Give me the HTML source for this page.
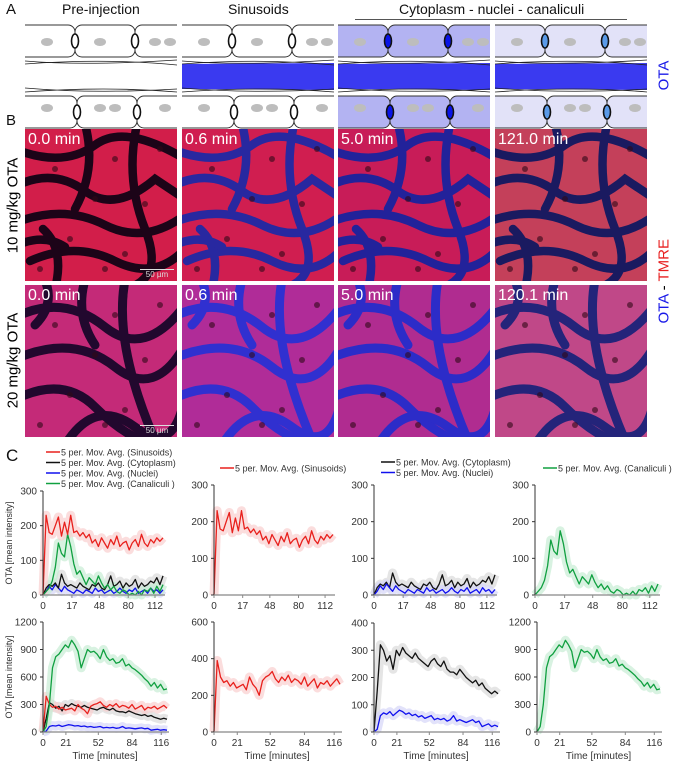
<!DOCTYPE html>
<html><head><meta charset="utf-8">
<style>
html,body{margin:0;padding:0;background:#fff;}
body{width:674px;height:762px;position:relative;overflow:hidden;font-family:"Liberation Sans",sans-serif;}
.abs{position:absolute;}
.lbl{font-size:15px;color:#111;}
.ttl{font-size:14px;color:#111;white-space:nowrap;}
.ts{position:absolute;left:3px;top:2px;color:#fff;font-size:16px;white-space:nowrap;}
.img{position:absolute;width:152px;height:152px;overflow:hidden;}
.rot{position:absolute;transform:rotate(-90deg);transform-origin:center;white-space:nowrap;}
</style></head>
<body>
<div class="abs lbl" style="left:6px;top:1px">A</div>
<div class="abs lbl" style="left:6px;top:112px">B</div>
<div class="abs lbl" style="left:6px;top:446px;font-size:17px">C</div>

<div class="abs ttl" style="left:62px;top:1px">Pre-injection</div>
<div class="abs ttl" style="left:228px;top:1px">Sinusoids</div>
<div class="abs ttl" style="left:399px;top:1px">Cytoplasm - nuclei - canaliculi</div>
<div class="abs" style="left:355px;top:19px;width:272px;height:1px;background:#555"></div>

<div class="rot" style="left:648px;top:67px;color:#1a1ae8;font-size:15px;width:32px;text-align:center">OTA</div>
<div class="rot" style="left:624px;top:275px;font-size:15px;width:80px;text-align:center"><span style="color:#1a1ae8">OTA</span> - <span style="color:#e82020">TMRE</span></div>
<div class="rot" style="left:-42px;top:197px;font-size:15px;width:110px;text-align:center">10 mg/kg OTA</div>
<div class="rot" style="left:-42px;top:352px;font-size:15px;width:110px;text-align:center">20 mg/kg OTA</div>

<svg id="schem" class="abs" style="left:0;top:0" width="674" height="130"></svg>
<div id="imgs"></div>
<svg id="charts" class="abs" style="left:0;top:440px" width="674" height="322"></svg>

<script>
const NS="http://www.w3.org/2000/svg";
function mk(tag,attrs,parent){const e=document.createElementNS(NS,tag);for(const k in attrs)e.setAttribute(k,attrs[k]);if(parent)parent.appendChild(e);return e;}
const colX=[25,182,338,495];
const cellFill=['#fff','#fff','#b3b3f2','#e2e2f8'];
const canFill=['#fff','#fff','#0a14e6','#5a9ae8'];
const schem=document.getElementById('schem');
colX.forEach((cx,i)=>{
  const g=mk('g',{transform:`translate(${cx},0)`},schem);
  
  
  const clip=mk('clipPath',{id:'cl'+i},g);mk('rect',{x:0,y:0,width:152,height:130},clip);
  const c=mk('g',{'clip-path':`url(#cl${i})`},g);
  [[-10,50],[50,110],[110,165]].forEach(([a,b])=>mk('rect',{x:a,y:25,width:b-a,height:32,rx:7,fill:cellFill[i],stroke:'#333','stroke-width':1},c));
  [[-10,52],[52,112],[112,165]].forEach(([a,b])=>mk('rect',{x:a,y:96,width:b-a,height:32,rx:7,fill:cellFill[i],stroke:'#333','stroke-width':1},c));
  [50,110].forEach(x=>mk('ellipse',{cx:x,cy:41,rx:3.5,ry:7,fill:canFill[i],stroke:'#111','stroke-width':1.6},c));
  [52,112].forEach(x=>mk('ellipse',{cx:x,cy:112,rx:3.5,ry:7,fill:canFill[i],stroke:'#111','stroke-width':1.6},c));
  [22,75,130,145].forEach(x=>mk('ellipse',{cx:x,cy:42,rx:6,ry:4,fill:'#bdbdbd'},c));
  [22,75,90,140].forEach(x=>mk('ellipse',{cx:x,cy:108,rx:6,ry:4,fill:'#bdbdbd'},c));
  if(i>0) mk('path',{d:'M0 64 L152 63 L152 90 L0 89 Z',fill:'#3a3af0'},c);
  mk('path',{d:'M0 61 Q60 66 152 60 M0 64 Q80 58 152 65',fill:'none',stroke:'#222','stroke-width':0.8},c);
  mk('path',{d:'M0 88 Q70 94 152 89 M0 92 Q80 86 152 92',fill:'none',stroke:'#222','stroke-width':0.8},c);
});

const imgRowsY=[129,285];
const times=[['0.0 min','0.6 min','5.0 min','121.0 min'],['0.0 min','0.6 min','5.0 min','120.1 min']];
const bg=[['#d21e4a','#d01e50','#c81c58','#c4405a'],['#c42a78','#b02c98','#b02c90','#c04888']];
const ch=[['#1c0418','#2828a0','#22229a','#1a1a60'],['#22082e','#3030d0','#2c2cc8','#24247a']];
const paths1=["M-5 22 Q40 38 70 16 T160 30","M-5 55 Q30 40 60 62 T130 50 L160 70","M-5 92 Q40 76 80 96 T160 86","M5 132 Q50 112 90 132 T160 120","M60 -5 Q72 40 50 80","M112 -5 Q100 50 120 100 T100 160","M30 160 Q40 120 18 100","M-5 115 Q20 105 40 118"];
const paths2=["M-5 30 Q40 10 80 42 T160 20","M-5 72 Q50 50 90 82 T160 60","M-5 112 Q40 92 70 122 T130 160","M40 160 Q70 112 110 142 T160 110","M100 -5 Q88 60 132 160","M20 -5 Q30 20 10 40","M60 -5 Q50 30 70 60"];
const imgs=document.getElementById('imgs');
imgRowsY.forEach((y,r)=>colX.forEach((x,c)=>{
  const d=document.createElement('div');d.className='img';d.style.left=x+'px';d.style.top=y+'px';d.style.background=bg[r][c];
  
  
  const s=mk('svg',{width:152,height:152},null);
  (r?paths2:paths1).forEach(p=>mk('path',{d:p,fill:'none',stroke:ch[r][c],'stroke-width':r?9:8.5,'stroke-linecap':'round'},s));
  [[30,40],[90,30],[120,75],[45,110],[100,125],[70,70],[15,140],[135,20],[80,140]].forEach(([a,b])=>mk('circle',{cx:a,cy:b,r:3,fill:'#300818',opacity:0.6},s));
  d.appendChild(s);
  const t=document.createElement('div');t.className='ts';t.textContent=times[r][c];
  
  
  d.appendChild(t);
  if(c===0){const sb=document.createElement('div');sb.style.cssText='position:absolute;left:115px;top:140px;width:34px;border-top:1px solid #ddd;color:#ddd;font-size:8px;text-align:center';sb.textContent='50 µm';
  
  
  d.appendChild(sb);}
  imgs.appendChild(d);
}));

// ---------- Panel C chart data ----------
const yTicks10=[0,100,200,300];
const xTickLabels10=['0','17','48','80','112'];
const xTickIdx10=[0,9.4,18.3,27.7,36.4];
const xTickLabels20=['0','21','52','84','116'];
const xTickIdx20=[0,7.2,17.4,28,37.2];
const sin10=[0,230,180,175,200,225,170,210,175,230,180,185,170,180,165,175,150,160,140,165,150,135,160,145,170,140,150,155,130,150,160,140,175,150,140,160,150,165,155,165];
const cyt10=[0,20,30,25,35,20,60,35,25,30,25,20,35,25,20,15,30,25,35,20,15,30,55,25,30,40,20,35,25,30,45,20,35,25,30,40,35,50,30,55];
const nuc10=[0,10,25,15,30,20,10,25,15,10,5,15,10,5,15,10,5,20,10,15,5,10,15,5,10,20,10,5,15,10,20,5,10,15,5,20,10,15,5,15];
const can10=[0,10,20,40,80,150,120,110,175,140,90,60,70,50,30,50,40,30,55,35,20,30,15,25,10,5,15,10,0,5,0,10,0,15,10,20,5,25,10,30];
const sin20=[0,390,300,270,280,250,270,240,250,260,230,300,260,240,200,280,300,310,330,290,270,300,280,310,270,290,280,260,300,250,270,290,240,270,260,280,250,270,290,260];
const cyt20=[0,150,320,300,260,280,230,300,280,310,290,280,270,290,270,260,250,240,260,270,250,240,260,230,220,220,210,230,215,200,190,180,190,170,180,160,150,140,150,140];
const nuc20=[0,10,60,70,65,75,60,70,80,75,65,70,60,65,55,60,50,55,60,45,50,45,50,40,45,60,40,45,40,35,40,45,35,40,20,25,30,20,25,20];
const can20=[0,60,300,700,820,850,900,950,920,1000,950,880,700,800,900,870,880,850,800,900,820,780,800,750,760,800,720,740,700,680,650,620,580,550,500,540,480,520,460,470];
const yTicksA=[0,300,600,900,1200];
const yTicksB=[0,200,400,600];
const yTicksC=[0,100,200,300,400];

const COL={sin:['#e8201c','#f9cfcf'],cyt:['#111','#dadada'],nuc:['#1010ee','#d6d6f8'],can:['#10a040','#c8ecd4']};
const OY=440;
const charts=[
 {id:'c10-all',x0:43,x1:163,yb:595,yt:491,max:300,yt_:yTicks10,xl:xTickLabels10,xi:xTickIdx10,s:[['nuc',nuc10],['cyt',cyt10],['can',can10],['sin',sin10]],ylab:true},
 {id:'c10-sin',x0:214,x1:333,yb:595,yt:485,max:300,yt_:yTicks10,xl:xTickLabels10,xi:xTickIdx10,s:[['sin',sin10]]},
 {id:'c10-cyt',x0:374,x1:495,yb:595,yt:485,max:300,yt_:yTicks10,xl:xTickLabels10,xi:xTickIdx10,s:[['cyt',cyt10],['nuc',nuc10]]},
 {id:'c10-can',x0:535,x1:658,yb:595,yt:485,max:300,yt_:yTicks10,xl:xTickLabels10,xi:xTickIdx10,s:[['can',can10]]},
 {id:'c20-all',x0:43,x1:167,yb:732,yt:622,max:1200,yt_:yTicksA,xl:xTickLabels20,xi:xTickIdx20,s:[['nuc',nuc20],['cyt',cyt20],['sin',sin20],['can',can20]],ylab:true,time:true},
 {id:'c20-sin',x0:214,x1:340,yb:732,yt:622,max:600,yt_:yTicksB,xl:xTickLabels20,xi:xTickIdx20,s:[['sin',sin20]],time:true},
 {id:'c20-cyt',x0:374,x1:498,yb:732,yt:623,max:400,yt_:yTicksC,xl:xTickLabels20,xi:xTickIdx20,s:[['cyt',cyt20],['nuc',nuc20]],time:true},
 {id:'c20-can',x0:537,x1:660,yb:732,yt:622,max:1200,yt_:yTicksA,xl:xTickLabels20,xi:xTickIdx20,s:[['can',can20]],time:true}
];
const svg=document.getElementById('charts');
charts.forEach(c=>{
  const g=mk('g',{},svg);
  
  
  const n=40;
  const X=i=>c.x0+i/(n-1)*(c.x1-c.x0);
  const Y=v=>c.yb-OY-v/c.max*(c.yb-c.yt);
  c.s.forEach(([k,arr])=>{
    const pts=arr.map((v,i)=>X(i).toFixed(1)+','+Y(v).toFixed(1)).join(' ');
    const band=mk('polyline',{points:pts,fill:'none',stroke:COL[k][1],'stroke-width':9,'stroke-linejoin':'round',opacity:0.7},g);
    
    
  });
  c.s.forEach(([k,arr])=>{
    const pts=arr.map((v,i)=>X(i).toFixed(1)+','+Y(v).toFixed(1)).join(' ');
    const l=mk('polyline',{points:pts,fill:'none',stroke:COL[k][0],'stroke-width':1.3,'stroke-linejoin':'round'},g);
    
    
  });
  mk('line',{x1:c.x0,y1:c.yt-OY,x2:c.x0,y2:c.yb-OY,stroke:'#333','stroke-width':1},g);
  mk('line',{x1:c.x0,y1:c.yb-OY,x2:c.x1+2,y2:c.yb-OY,stroke:'#888','stroke-width':1.2},g);
  c.yt_.forEach(v=>{
    mk('line',{x1:c.x0-3,y1:Y(v),x2:c.x0,y2:Y(v),stroke:'#333'},g);
    const t=mk('text',{x:c.x0-6,y:Y(v)+3.5,'text-anchor':'end','font-size':10,fill:'#333'},g);t.textContent=v;
    
    
  });
  c.xl.forEach((lab,j)=>{
    const x=X(c.xi[j]);
    mk('line',{x1:x,y1:c.yb-OY,x2:x,y2:c.yb-OY+3,stroke:'#888'},g);
    const t=mk('text',{x:x,y:c.yb-OY+14,'text-anchor':'middle','font-size':10,fill:'#333'},g);t.textContent=lab;
    
    
  });
  if(c.time){const t=mk('text',{x:(c.x0+c.x1)/2,y:c.yb-OY+27,'text-anchor':'middle','font-size':10,fill:'#333'},g);t.textContent='Time [minutes]';
    
    }
  if(c.ylab){const cy=(c.yt+c.yb)/2-OY;const t=mk('text',{x:12,y:cy,'text-anchor':'middle','font-size':9,fill:'#333',transform:`rotate(-90 12 ${cy})`},g);t.textContent='OTA [mean intensity]';
    
    }
});
const legends=[
 [46,452,[['sin','5 per. Mov. Avg. (Sinusoids)'],['cyt','5 per. Mov. Avg. (Cytoplasm)'],['nuc','5 per. Mov. Avg. (Nuclei)'],['can','5 per. Mov. Avg. (Canaliculi )']]],
 [220,468,[['sin','5 per. Mov. Avg. (Sinusoids)']]],
 [381,462,[['cyt','5 per. Mov. Avg. (Cytoplasm)'],['nuc','5 per. Mov. Avg. (Nuclei)']]],
 [543,468,[['can','5 per. Mov. Avg. (Canaliculi )']]]
];
legends.forEach(([lx,ly,items])=>{
  const g=mk('g',{},svg);
  
  
  items.forEach(([k,txt],i)=>{
    const y=ly-OY+i*10.5;
    mk('line',{x1:lx,y1:y,x2:lx+14,y2:y,stroke:COL[k][0],'stroke-width':1.5},g);
    const t=mk('text',{x:lx+15,y:y+3.5,'font-size':9,fill:'#333'},g);t.textContent=txt;
    
    
  });
});
</script>
</body></html>
